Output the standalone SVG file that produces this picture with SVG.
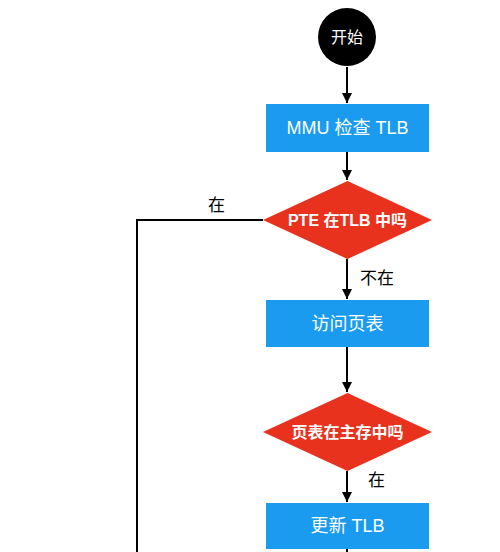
<svg xmlns="http://www.w3.org/2000/svg" width="500" height="552" viewBox="0 0 500 552">
<defs>
<marker id="arr" viewBox="0 0 10 10" refX="10" refY="5" markerWidth="10" markerHeight="10" markerUnits="userSpaceOnUse" orient="auto">
<path d="M0,0 L10,5 L0,10 z" fill="#000"/>
</marker>
<style>
.box{fill:#1A9BF0}
.dia{fill:#E8321E}
.t{font-family:"Liberation Sans","Noto Sans CJK SC",sans-serif;fill:#fff;text-anchor:middle;dominant-baseline:central}
.bt{font-size:18px}
.dt{font-size:16px;font-weight:bold}
.lbl{font-family:"Liberation Sans","Noto Sans CJK SC",sans-serif;font-size:17px;fill:#000}
.ln{stroke:#000;stroke-width:2;fill:none}
</style>
</defs>
<rect width="500" height="552" fill="#fff"/>
<g id="connectors">
<line class="ln" x1="347" y1="67" x2="347" y2="103" marker-end="url(#arr)"/>
<line class="ln" x1="347" y1="152" x2="347" y2="180" marker-end="url(#arr)"/>
<line class="ln" x1="347" y1="259" x2="347" y2="299" marker-end="url(#arr)"/>
<line class="ln" x1="347" y1="347" x2="347" y2="392" marker-end="url(#arr)"/>
<line class="ln" x1="347" y1="471" x2="347" y2="502" marker-end="url(#arr)"/>
<line class="ln" x1="347" y1="549" x2="347" y2="552"/>
<polyline class="ln" points="263,220 137,220 137,552"/>
<text class="lbl" x="208" y="211">在</text>
<text class="lbl" x="360" y="284">不在</text>
<text class="lbl" x="368" y="486">在</text>
</g>
<g id="start">
<circle cx="347" cy="37" r="29" fill="#000"/>
<text class="t" x="347" y="37" font-size="16">开始</text>
</g>
<g id="mmu">
<rect class="box" x="266" y="104" width="163" height="48"/>
<text class="t bt" x="347.5" y="128">MMU 检查 TLB</text>
</g>
<g id="pte">
<polygon class="dia" points="347.5,181 432,220 347.5,259 263,220"/>
<text class="t dt" x="347.5" y="220">PTE 在TLB 中吗</text>
</g>
<g id="access">
<rect class="box" x="266" y="300" width="163" height="47"/>
<text class="t bt" x="347.5" y="323.5">访问页表</text>
</g>
<g id="inmem">
<polygon class="dia" points="347.5,393 432,432 347.5,471 263,432"/>
<text class="t dt" x="347.5" y="432">页表在主存中吗</text>
</g>
<g id="update">
<rect class="box" x="266" y="503" width="163" height="46"/>
<text class="t bt" x="347.5" y="526">更新 TLB</text>
</g>
</svg>
